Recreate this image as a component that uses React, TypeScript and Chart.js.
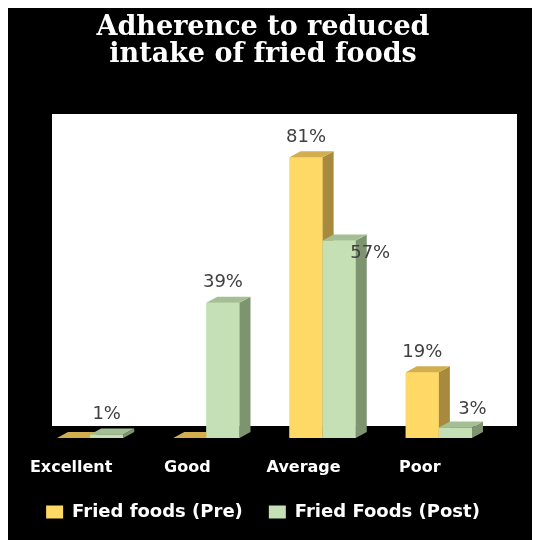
import React, { useEffect, useRef } from "react";
import { Chart, registerables } from "chart.js";

Chart.register(...registerables);

const categories = ["Excellent", "Good", "Average", "Poor"];
const seriesNames = ["Fried foods (Pre)", "Fried Foods (Post)"];
const preValues = [0, 0, 81, 19];
const postValues = [1, 39, 57, 3];
const titleLines = ["Adherence to reduced", "intake of fried foods"];

const FRONT = ["#FFD966", "#C5E0B4"];
const TOP = ["#D2AE4E", "#A3BF93"];
const SIDE = ["#A88A3E", "#7E9471"];
const BAR_DEPTH = { dx: 11, dy: -6 };
const WALL_DEPTH = { dx: 20, dy: -12 };
// extra label shifts (style only) per dataset / point
const LABEL_SHIFT: { [k: string]: { x: number; y: number } } = {
  "1-2": { x: 31, y: 33 },
  "1-3": { x: 17, y: 2 },
};

const threeD = {
  id: "threeD",
  beforeDatasetsDraw(chart: any) {
    const { ctx, chartArea: a } = chart;
    ctx.save();
    ctx.fillStyle = "#FFFFFF";
    ctx.fillRect(a.left + WALL_DEPTH.dx, a.top + WALL_DEPTH.dy, a.right - a.left, a.bottom - a.top);
    ctx.restore();
  },
  afterDatasetsDraw(chart: any) {
    const ctx = chart.ctx;
    ctx.save();
    chart.data.datasets.forEach((ds: any, di: number) => {
      const meta = chart.getDatasetMeta(di);
      meta.data.forEach((el: any) => {
        const p = el.getProps(["x", "y", "base", "width"], true);
        const l = p.x - p.width / 2;
        const r = p.x + p.width / 2;
        const t = Math.min(p.y, p.base);
        const b = Math.max(p.y, p.base);
        const { dx, dy } = BAR_DEPTH;
        ctx.fillStyle = FRONT[di];
        ctx.fillRect(l, t, r - l, b - t);
        ctx.fillStyle = SIDE[di];
        ctx.beginPath();
        ctx.moveTo(r, t);
        ctx.lineTo(r + dx, t + dy);
        ctx.lineTo(r + dx, b + dy);
        ctx.lineTo(r, b);
        ctx.closePath();
        ctx.fill();
        ctx.fillStyle = TOP[di];
        ctx.beginPath();
        ctx.moveTo(l, t);
        ctx.lineTo(l + dx, t + dy);
        ctx.lineTo(r + dx, t + dy);
        ctx.lineTo(r, t);
        ctx.closePath();
        ctx.fill();
      });
    });
    // data labels
    ctx.font = '18px "DejaVu Sans"';
    ctx.fillStyle = "#404040";
    ctx.textAlign = "center";
    ctx.textBaseline = "middle";
    chart.data.datasets.forEach((ds: any, di: number) => {
      const meta = chart.getDatasetMeta(di);
      meta.data.forEach((el: any, i: number) => {
        const v = ds.data[i];
        if (!v) return;
        const p = el.getProps(["x", "y"], true);
        const s = LABEL_SHIFT[di + "-" + i] || { x: 0, y: 0 };
        ctx.fillText(v + "%", p.x + s.x, p.y - 20 + s.y);
      });
    });
    ctx.restore();
  },
};

export default function App() {
  const ref = useRef<HTMLCanvasElement>(null);
  useEffect(() => {
    if (!ref.current) return;
    const chart = new Chart(ref.current, {
      type: "bar",
      data: {
        labels: categories,
        datasets: [
          { label: seriesNames[0], data: preValues, backgroundColor: FRONT[0], borderWidth: 0 },
          { label: seriesNames[1], data: postValues, backgroundColor: FRONT[1], borderWidth: 0 },
        ],
      },
      options: {
        animation: false,
        responsive: false,
        maintainAspectRatio: false,
        layout: { padding: { left: 0, right: 22, top: 0, bottom: 9 } },
        datasets: { bar: { categoryPercentage: 0.57, barPercentage: 1.0 } },
        scales: {
          x: {
            grid: { display: false, drawTicks: false },
            border: { display: false },
            ticks: {
              color: "#FFFFFF",
              font: { family: '"DejaVu Sans"', size: 16, weight: "bold" },
              padding: 20,
              labelOffset: -19,
            },
            afterFit: (scale: any) => {
              scale.height = 39;
            },
          },
          y: {
            position: "left",
            min: 0,
            max: 90,
            grid: { display: false, drawTicks: false },
            border: { display: false },
            ticks: { display: false },
            afterFit: (scale: any) => {
              scale.width = 24;
            },
          },
          yRight: {
            position: "right",
            min: 0,
            max: 90,
            grid: { display: false, drawTicks: false },
            border: { display: false },
            ticks: { display: false },
            afterFit: (scale: any) => {
              scale.width = 21;
            },
          },
        },
        plugins: {
          title: {
            display: true,
            text: titleLines,
            color: "#FFFFFF",
            font: { family: '"DejaVu Serif"', size: 27, weight: "bold", lineHeight: 1.0 },
            padding: { top: 6, bottom: 58 },
          },
          legend: {
            position: "bottom",
            labels: {
              color: "#FFFFFF",
              font: { family: '"DejaVu Sans"', size: 18, weight: "bold" },
              boxWidth: 17,
              boxHeight: 13,
              padding: 26,
            },
          },
          tooltip: { enabled: false },
        },
      },
      plugins: [threeD],
    });
    return () => chart.destroy();
  }, []);
  return (
    <div style={{ width: 540, height: 540, background: "#000000" }}>
      <canvas ref={ref} width={532} height={532} style={{ display: "block" }} />
    </div>
  );
}
